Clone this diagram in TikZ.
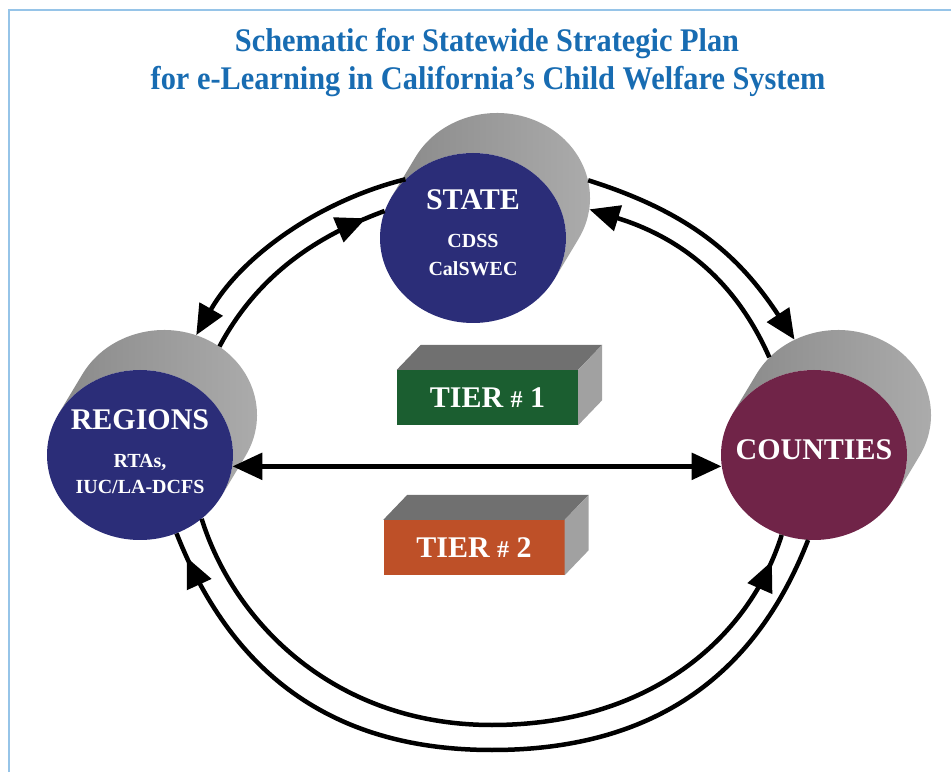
\documentclass[tikz,border=0pt]{standalone}
\usepackage{fontspec}
\setmainfont{Liberation Serif}
\usepackage{graphicx}
\usetikzlibrary{calc,shapes.geometric,arrows.meta,decorations.markings}

\definecolor{titleblue}{RGB}{24,108,178}
\definecolor{framecol}{RGB}{150,196,232}
\definecolor{stateblue}{RGB}{43,45,120}
\definecolor{countyred}{RGB}{112,36,72}
\definecolor{tiergreen}{RGB}{27,94,48}
\definecolor{tierorange}{RGB}{190,80,40}

\newcommand\bigname{\fontsize{30}{30}\selectfont\bfseries}
\newcommand\subname{\fontsize{20}{26}\selectfont\bfseries}

\begin{document}
\begin{tikzpicture}[x=1pt,y=1pt,
    >={Triangle[length=30pt,width=26pt]},
    title/.style={anchor=base,text=titleblue,font=\fontsize{33}{33}\selectfont\bfseries},
    face/.style={ellipse,minimum width=186,minimum height=170,inner xsep=-40pt,inner ysep=0pt,text depth=10pt,text=white,align=center,font=\subname},
    backface/.style={ellipse,minimum width=186,minimum height=170,inner sep=0pt},
    cylbody/.style={left color=black!46,middle color=black!53,right color=black!32},
    tier/.style={minimum width=181,minimum height=55,inner sep=0pt,text=white,font=\bigname},
    boxtop/.style={fill=black!56},
    boxside/.style={fill=black!37},
    link/.style={line width=4.5pt},
    headat/.style={postaction={decorate},decoration={markings,mark=at position #1 with {\arrow{>}}}}]
  \useasboundingbox (0,0) rectangle (951,772);
  \draw[framecol,line width=2pt] (9,0) -- (9,762) -- (951,762);

  % title
  \node[title] (title1) at (487,720) {\scalebox{.92}[1]{Schematic for Statewide Strategic Plan}};
  \node[title] (title2) at (488,682) {\scalebox{.92}[1]{for e-Learning in California's Child Welfare System}};

  % cylinders
  \coordinate (st) at (473,534);
  \coordinate (rg) at (140,317);
  \coordinate (ct) at (814,317);
  \foreach \c in {st,rg,ct}{
    \shade[cylbody] (\c) ++(151:93 and 85) -- ++(24,40)
      arc[start angle=151,end angle=-29,x radius=93,y radius=85]
      -- ++(-24,-40)
      arc[start angle=-29,end angle=151,x radius=93,y radius=85] -- cycle;
  }
  \node[face,fill=stateblue] (state) at (st) {{\bigname STATE}\\[12pt]CDSS\\[2pt]CalSWEC};
  \node[face,fill=stateblue,text depth=6pt] (regions) at (rg) {{\bigname REGIONS}\\[12pt]RTAs,\\IUC/LA-DCFS};
  \node[face,fill=countyred] (counties) at (ct) {\bigname COUNTIES};
  \node[backface] (stateback) at ($(st)+(24,40)$) {};
  \node[backface] (regionsback) at ($(rg)+(24,40)$) {};
  \node[backface] (countiesback) at ($(ct)+(24,40)$) {};

  % tiers
  \node[tier,fill=tiergreen] (tier1) at (487.5,374.5) {TIER {\fontsize{24}{24}\selectfont\#} 1};
  \node[tier,fill=tierorange] (tier2) at (474,224.5) {TIER {\fontsize{24}{24}\selectfont\#} 2};
  \foreach \b in {tier1,tier2}{
    \fill[boxtop] (\b.north west) -- ++(24,25) -- ($(\b.north east)+(24,25)$) -- (\b.north east) -- cycle;
    \fill[boxside] (\b.north east) -- ++(24,25) -- ($(\b.south east)+(24,25)$) -- (\b.south east) -- cycle;
  }

  % links
  \draw[link,->] (state.139) .. controls (318,571) and (241,515) .. (regionsback.68);
  \draw[link,headat=-20pt] (regionsback.51) .. controls (262,505) and (328,540) .. (state.163);
  \draw[link,->] (stateback.11) .. controls (692,559) and (740,515) .. (countiesback.120);
  \draw[link,->] (countiesback.140) .. controls (733,497) and (675,536) .. (stateback.-7);
  \draw[link,line width=5.5pt,<->] (regions.-7) -- (counties.187);
  \draw[link,headat=-28pt] (regions.-46) .. controls (234,149) and (335,47) .. (492,47)
      .. controls (649,47) and (749,133) .. (counties.248);
  \draw[link,headat=-26pt] (counties.266) .. controls (761,111) and (669,22) .. (492,22)
      .. controls (315,22) and (225,116) .. (regions.-65);
\end{tikzpicture}
\end{document}
